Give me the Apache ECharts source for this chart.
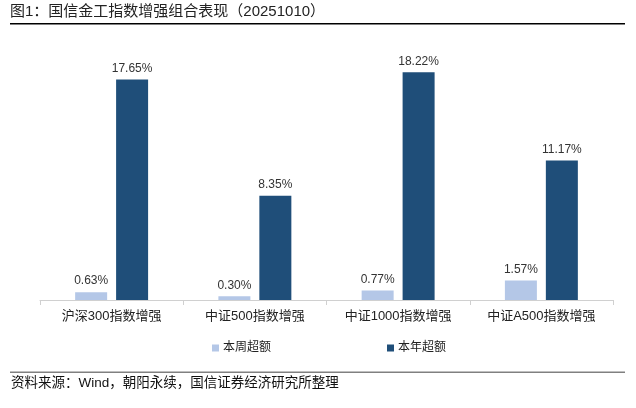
<!DOCTYPE html>
<html><head><meta charset="utf-8">
<script src="https://cdn.jsdelivr.net/npm/echarts@6/dist/echarts.min.js"></script>
<style>html,body{margin:0;padding:0;background:#fff}#c{width:636px;height:408px}</style>
</head><body><div id="c"></div>
<script>
var categories = ['沪深300指数增强','中证500指数增强','中证1000指数增强','中证A500指数增强'];
var weekExcess = [0.63, 0.30, 0.77, 1.57];
var yearExcess = [17.65, 8.35, 18.22, 11.17];
var seriesNames = ['本周超额','本年超额'];
var FONT = '"Liberation Sans", "Noto Sans CJK SC", sans-serif';
var chart = echarts.init(document.getElementById('c'));
chart.setOption({
  animation: false,
  textStyle: {fontFamily: FONT},
  graphic: [
    {type:'text', left:10, top:4, style:{text:'图1：国信金工指数增强组合表现（20251010）', font:'15px ' + FONT, fill:'#222'}},
    {type:'rect', shape:{x:10, y:23, width:615, height:1.5}, style:{fill:'#000'}},
    {type:'rect', shape:{x:10, y:371.5, width:615, height:1.5}, style:{fill:'#808080'}},
    {type:'text', left:11, top:377, style:{text:'资料来源：Wind，朝阳永续，国信证券经济研究所整理', font:'13.5px ' + FONT, fill:'#111'}}
  ],
  legend: {
    left: 207, top: 337, itemWidth: 7, itemHeight: 7, itemGap: 116,
    icon: 'rect',
    textStyle: {fontSize: 12, color: '#222', fontFamily: FONT, padding:[0,0,0,-1]},
    data: seriesNames
  },
  grid: {left: 40, right: 23, top: 50, bottom: 108, containLabel: false},
  xAxis: {
    type: 'category', data: categories,
    axisLine: {lineStyle: {color: '#d0d0d0', width: 1}},
    axisTick: {show: true, length: 5, lineStyle: {color: '#d0d0d0'}},
    axisLabel: {fontSize: 13, color: '#222', margin: 10, fontFamily: FONT}
  },
  yAxis: {type: 'value', min: 0, max: 20, show: false, splitLine: {show: false}},
  series: [
    {name: seriesNames[0], type: 'bar', data: weekExcess, barWidth: 32, barGap: '28%',
     itemStyle: {color: '#B4C7E7'},
     label: {show: true, position: 'top', distance: 5, fontSize: 12, color: '#333', fontFamily: FONT,
       formatter: function(p){return p.value.toFixed(2) + '%';}}},
    {name: seriesNames[1], type: 'bar', data: yearExcess, barWidth: 32, barGap: '28%',
     itemStyle: {color: '#1F4E79'},
     label: {show: true, position: 'top', distance: 5, fontSize: 12, color: '#333', fontFamily: FONT,
       formatter: function(p){return p.value.toFixed(2) + '%';}}}
  ]
});
</script></body></html>
